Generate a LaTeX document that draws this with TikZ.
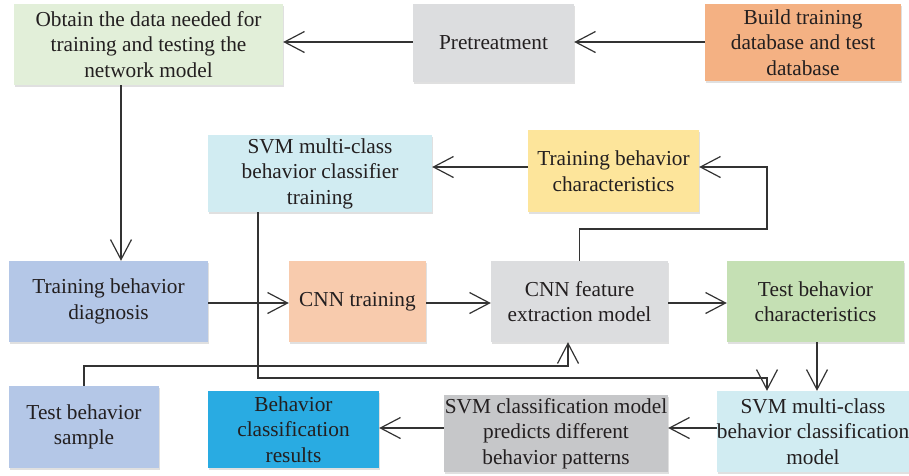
\documentclass[tikz,border=0pt]{standalone}
\usepackage{fontspec}
\setmainfont{Liberation Serif}
\usetikzlibrary{arrows.meta,shadows}
\definecolor{txt}{HTML}{231F20}
\definecolor{ln}{HTML}{333333}
\definecolor{cObtain}{HTML}{E2EFD9}
\definecolor{cPre}{HTML}{DCDDDF}
\definecolor{cBuild}{HTML}{F4B183}
\definecolor{cSvmT}{HTML}{D1ECF2}
\definecolor{cTrainC}{HTML}{FDE59B}
\definecolor{cDiag}{HTML}{B4C7E7}
\definecolor{cCnnT}{HTML}{F8CBAD}
\definecolor{cFeat}{HTML}{DCDDDF}
\definecolor{cTestC}{HTML}{C5E0B4}
\definecolor{cRes}{HTML}{29ABE2}
\definecolor{cPred}{HTML}{C6C7C9}
\begin{document}
\begin{tikzpicture}[x=1pt,y=-1pt,
  box/.style={rectangle, inner sep=0pt, align=center, text=txt,
    font=\fontsize{21.3}{25.5}\selectfont,
    drop shadow={shadow xshift=1pt, shadow yshift=-1.5pt, fill=black, opacity=0.12}},
  arr/.style={draw=ln, line width=1.2pt,
    -{Straight Barb[length=20pt,width=21pt,line width=1.2pt]}}]
\useasboundingbox (0,0) rectangle (909,475);
\fill[white] (0,0) rectangle (909,475);

\node[box, fill=cObtain, minimum width=269pt, minimum height=81pt] (obtain) at (148.5,44.5)
  {Obtain the data needed for\\training and testing the\\network model};
\node[box, fill=cPre, minimum width=161pt, minimum height=78pt] (pre) at (493.5,43) {Pretreatment};
\node[box, fill=cBuild, minimum width=196pt, minimum height=77pt] (build) at (803,42.5)
  {Build training\\database and test\\database};
\node[box, fill=cSvmT, minimum width=224pt, minimum height=77pt] (svmtrain) at (320,173.5)
  {SVM multi-class\\behavior classifier\\training};
\node[box, fill=cTrainC, minimum width=171pt, minimum height=82pt] (trainchar) at (613.5,171)
  {Training behavior\\characteristics};
\node[box, fill=cDiag, minimum width=199pt, minimum height=81pt] (diag) at (108.5,301.5)
  {Training behavior\\diagnosis};
\node[box, fill=cCnnT, minimum width=137pt, minimum height=81pt] (cnntrain) at (357.5,301.5)
  {CNN training};
\node[box, fill=cFeat, minimum width=177pt, minimum height=81pt] (cnnfeat) at (579.5,301.5)
  {CNN feature\\extraction model};
\node[box, fill=cTestC, minimum width=177pt, minimum height=81pt] (testchar) at (815.5,301.5)
  {Test behavior\\characteristics};
\node[box, fill=cDiag, minimum width=150pt, minimum height=82pt] (testsample) at (84,427)
  {Test behavior\\sample};
\node[box, fill=cRes, minimum width=171pt, minimum height=77pt] (results) at (293.5,429.5)
  {Behavior\\classification\\results};
\node[box, fill=cPred, minimum width=224pt, minimum height=77pt] (predict) at (556,433.5)
  {SVM classification model\\predicts different\\behavior patterns};
\node[box, fill=cSvmT, minimum width=192pt, minimum height=81pt] (svmmodel) at (813,431.5)
  {SVM multi-class\\behavior classification\\model};

\draw[arr] (build.west |- 0,42) -- (pre.east |- 0,42);
\draw[arr] (pre.west |- 0,42) -- (obtain.east |- 0,42);
\draw[arr] (obtain.south -| 121,0) -- (diag.north -| 121,0);
\draw[arr] (diag.east |- 0,303) -- (cnntrain.west |- 0,303);
\draw[arr] (cnntrain.east |- 0,303) -- (cnnfeat.west |- 0,303);
\draw[arr] (cnnfeat.east |- 0,303) -- (testchar.west |- 0,303);
\draw[arr] (testchar.south -| 817,0) -- (svmmodel.north -| 817,0);
\draw[arr] (svmtrain.south -| 258,0) |- (767,378) -- (svmmodel.north -| 767,0);
\draw[arr] (testsample.north) |- (568,366) -- (cnnfeat.south -| 568,0);
\draw[arr] (cnnfeat.north) |- (767,229) |- (trainchar.east |- 0,167);
\draw[arr] (trainchar.west |- 0,167) -- (svmtrain.east |- 0,167);
\draw[arr] (svmmodel.west |- 0,428) -- (predict.east |- 0,428);
\draw[arr] (predict.west |- 0,428) -- (results.east |- 0,428);
\end{tikzpicture}
\end{document}
